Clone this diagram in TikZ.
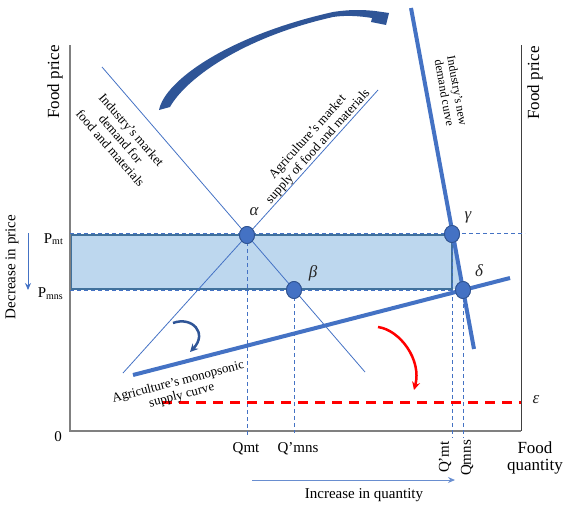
\documentclass[tikz,border=0pt]{standalone}
\usepackage{fontspec}
\setmainfont{Liberation Serif}
\usetikzlibrary{shapes.geometric,arrows.meta}
\definecolor{lblue}{HTML}{4472C4}
\definecolor{dblue}{HTML}{2F5597}
\definecolor{pborder}{HTML}{2F528F}
\definecolor{rectfill}{HTML}{BDD7EE}
\definecolor{rectline}{HTML}{41719C}
\definecolor{axgray}{HTML}{808080}
\definecolor{axdark}{HTML}{404040}
\definecolor{myred}{HTML}{FF0000}
\tikzset{
  thinline/.style={draw=lblue, line width=0.8pt},
  thickline/.style={draw=lblue, line width=4pt},
  dashline/.style={draw=lblue, line width=0.8pt, dash pattern=on 4pt off 3pt},
  eqpt/.style={ellipse, fill=lblue, draw=pborder, line width=0.8pt, minimum width=15pt, minimum height=17pt, inner sep=0pt},
  greek/.style={font=\fontsize{17}{19}\selectfont\itshape, text=black!85, inner sep=0pt},
  axlabel/.style={font=\fontsize{17}{19}\selectfont, inner sep=0pt, align=center},
  qlabel/.style={font=\fontsize{15}{17}\selectfont, inner sep=0pt},
  curvelabel/.style={font=\fontsize{13}{14}\selectfont, inner sep=0pt, align=center},
}
\begin{document}
\begin{tikzpicture}[x=1pt,y=-1pt]
\useasboundingbox (0,0) rectangle (564,506);

% shaded area
\fill[rectfill] (71,235) -- (452,235) -- (463,289) -- (71,289) -- cycle;
\draw[rectline, line width=1.2pt] (71,235) rectangle (452,289);

% axes
\coordinate (O) at (70,431);
\coordinate (ytop) at (70,45);
\coordinate (xend) at (521,431);
\coordinate (rtop) at (521,45);
\draw[axgray, line width=1.5pt] (ytop) -- (O) -- (xend);
\draw[axdark, line width=1pt] (rtop) -- (xend);

% points
\node[eqpt] (alpha) at (247,235) {};
\node[eqpt] (beta) at (294,290) {};
\node[eqpt] (gamma) at (452,234) {};
\node[eqpt] (delta) at (463,290) {};

% dashed price lines
\coordinate (pmtL) at (70,233);
\coordinate (pmtR) at (525,233);
\coordinate (pmnsL) at (70,290);
\draw[dashline] (pmtL) -- (pmtR);
\draw[dashline] (pmnsL) -- (delta.center);

% dashed quantity lines
\coordinate (qmtB) at (247,437);
\coordinate (qpmnsB) at (294,433);
\coordinate (qpmtB) at (452,438);
\coordinate (qmnsB) at (463,438);
\draw[dashline] (alpha.center) -- (qmtB);
\draw[dashline] (beta.center) -- (qpmnsB);
\draw[dashline] (gamma.center) -- (qpmtB);
\draw[dashline] (delta.center) -- (qmnsB);

% thin curves
\coordinate (dTop) at (102,67);
\coordinate (dBot) at (365,372);
\coordinate (sBot) at (123,373);
\coordinate (sTop) at (378,90);
\draw[thinline] (dTop) -- (dBot);
\draw[thinline] (sBot) -- (sTop);

% thick curves
\coordinate (nTop) at (411,8);
\coordinate (nBot) at (474,349);
\coordinate (mL) at (133,375);
\coordinate (mR) at (510,278);
\draw[thickline] (nTop) -- (nBot);
\draw[thickline] (mL) -- (mR);

% red dashed line
\coordinate (eL) at (162,402);
\coordinate (eR) at (521,402);
\draw[myred, line width=3pt, dash pattern=on 10pt off 7pt] (eL) -- (eR);

% redraw points on top
\node[eqpt] at (alpha) {};
\node[eqpt] at (beta) {};
\node[eqpt] at (gamma) {};
\node[eqpt] at (delta) {};

% greek labels
\node[greek] (la) at (254,212) {α};
\node[greek] (lb) at (313,273) {β};
\node[greek] (lg) at (468,217) {γ};
\node[greek] (ld) at (479,271) {δ};
\node[greek] (le) at (536,400) {ε};

% axis labels
\node[axlabel, rotate=90] (fpL) at (55,82) {Food price};
\node[axlabel, rotate=90] (fpR) at (535,83) {Food price};
\node[axlabel] (fq) at (535,458) {Food\\[-2pt]quantity};
\node[qlabel] (zero) at (58,437) {0};
\node[qlabel, anchor=base east] (pmt) at (63,243) {P\raisebox{-0.15ex}{\fontsize{10}{11}\selectfont mt}};
\node[qlabel, anchor=base east] (pmns) at (63,297) {P\raisebox{-0.3ex}{\fontsize{10}{11}\selectfont mns}};
\node[qlabel] (qmt) at (246,449) {Qmt};
\node[qlabel] (qpmns) at (298,449) {Q’mns};
\node[qlabel, rotate=90] (qpmt) at (445,457) {Q’mt};
\node[qlabel, rotate=90] (qmns) at (467,458) {Qmns};

% decrease / increase arrows
\node[qlabel, rotate=90] (dec) at (12,267) {Decrease in price};
\coordinate (decA) at (28,233);
\coordinate (decB) at (28,290);
\draw[lblue, line width=1pt, -{Stealth[length=7pt,width=6pt]}] (decA) -- (decB);
\coordinate (incA) at (252,480);
\coordinate (incB) at (455,480);
\draw[lblue!80, line width=1pt, -{Stealth[length=7pt,width=6pt]}] (incA) -- (incB);
\node[qlabel] (inc) at (364,495) {Increase in quantity};

% curve labels
\node[curvelabel, rotate=-49] (ldem) at (121,139) {Industry’s market\\demand for\\food and materials};
\node[curvelabel, rotate=48] (lsup) at (313,142) {Agriculture’s market\\supply of food and materials};
\node[curvelabel, rotate=-80, font=\fontsize{12}{13}\selectfont] (lnew) at (451,92) {Industry’s new\\demand curve};
\node[curvelabel, rotate=14.4] (lmon) at (180,389) {Agriculture’s monopsonic\\supply curve};

% big curved arrow
\fill[dblue] (159,110) .. controls (165,80) and (230,35) .. (333,12)
  .. controls (352,9) and (366,10) .. (375,11)
  -- (389,13) -- (386,25) -- (371,22) -- (372,18)
  .. controls (360,16) and (345,15) .. (333,17)
  .. controls (240,38) and (185,80) .. (170,107) -- cycle;

% small blue curved arrow
\coordinate (sbA) at (173,323);
\coordinate (sbB) at (190,352);
\draw[dblue, line width=2.5pt, -{Stealth[length=8pt,width=8pt]}] (sbA) .. controls (192,316) and (208,333) .. (sbB);

% red curved arrow
\coordinate (rA) at (378,327);
\coordinate (rB) at (414,390);
\draw[myred, line width=2.5pt, -{Stealth[length=8pt,width=8pt]}] (rA) .. controls (400,330) and (422,360) .. (rB);
\end{tikzpicture}
\end{document}
